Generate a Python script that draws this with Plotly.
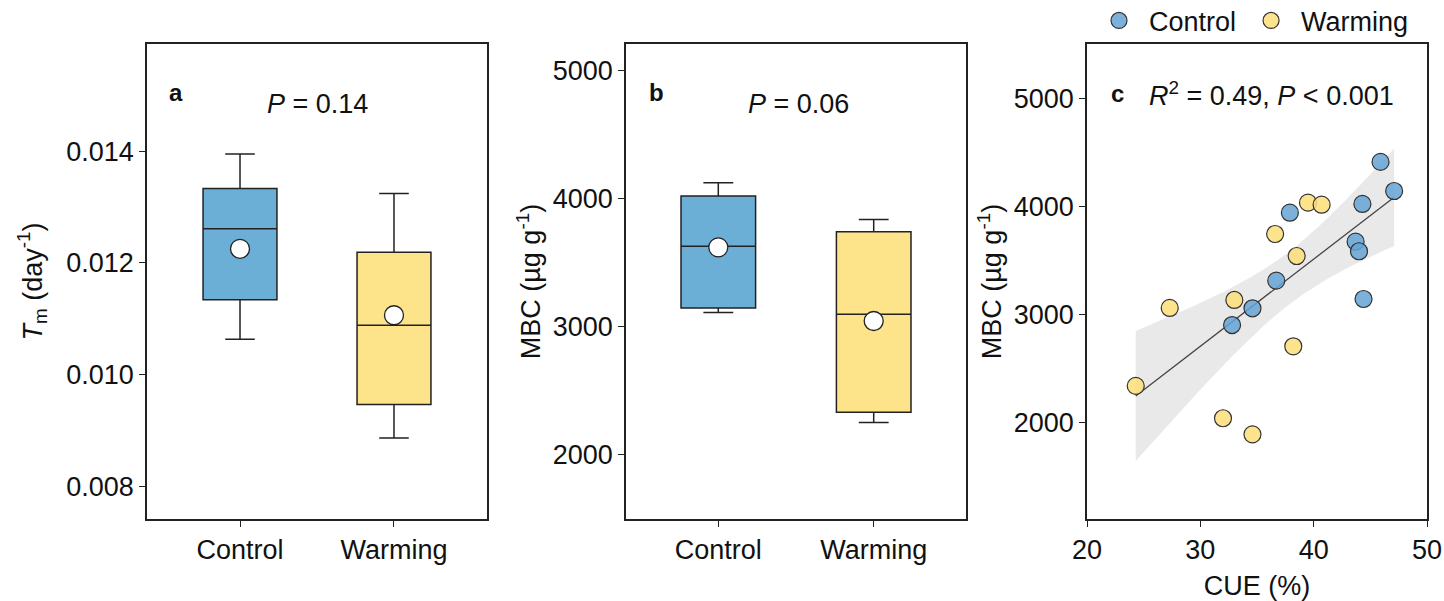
import numpy as np
import plotly.graph_objects as go

W, H = 1444, 601

# ---------------- data ----------------
groups = ["Control", "Warming"]

# panel a : Tm (day^-1) box statistics
tm_q1 = [0.01134, 0.00946]
tm_median = [0.01261, 0.01088]
tm_q3 = [0.01333, 0.01219]
tm_low = [0.01063, 0.00886]
tm_high = [0.01395, 0.01324]
tm_mean = [0.01225, 0.01106]

# panel b : MBC box statistics
mbc_q1 = [3146, 2333]
mbc_median = [3626, 3097]
mbc_q3 = [4018, 3740]
mbc_low = [3110, 2253]
mbc_high = [4122, 3836]
mbc_mean = [3618, 3044]

# panel c : CUE vs MBC
cue_control = [45.9, 47.1, 37.9, 44.3, 43.7, 44.0, 36.7, 44.4, 34.6, 32.8]
mbc_control = [4417, 4148, 3947, 4028, 3679, 3590, 3318, 3148, 3062, 2907]
cue_warming = [39.5, 40.7, 36.6, 38.5, 33.0, 27.3, 38.2, 24.3, 32.0, 34.6]
mbc_warming = [4040, 4021, 3750, 3546, 3139, 3065, 2710, 2343, 2044, 1895]

# ---------------- style ----------------
BLUE = "#6BAED6"
YELLOW = "#FDE38A"
BLUE_PT = "rgba(100,163,212,0.85)"
YELLOW_PT = "rgba(252,222,120,0.85)"
FONT = "Liberation Sans, Arial, sans-serif"
FS = 27
LINE = "#222222"


def px_x(x):
    return x / W


def px_y(y):
    return 1 - y / H


fig = go.Figure()

# ---------- panel a ----------
for i, g in enumerate(groups):
    fig.add_trace(go.Box(
        x=[g], q1=[tm_q1[i]], median=[tm_median[i]], q3=[tm_q3[i]],
        lowerfence=[tm_low[i]], upperfence=[tm_high[i]],
        fillcolor=[BLUE, YELLOW][i], line=dict(color=LINE, width=1.5),
        width=0.48, whiskerwidth=0.4, boxpoints=False, showlegend=False,
        xaxis="x", yaxis="y"))
fig.add_trace(go.Scatter(
    x=groups, y=tm_mean, mode="markers",
    marker=dict(size=19, color="white", line=dict(color=LINE, width=1.3)),
    showlegend=False, xaxis="x", yaxis="y"))

# ---------- panel b ----------
for i, g in enumerate(groups):
    fig.add_trace(go.Box(
        x=[g], q1=[mbc_q1[i]], median=[mbc_median[i]], q3=[mbc_q3[i]],
        lowerfence=[mbc_low[i]], upperfence=[mbc_high[i]],
        fillcolor=[BLUE, YELLOW][i], line=dict(color=LINE, width=1.5),
        width=0.48, whiskerwidth=0.4, boxpoints=False, showlegend=False,
        xaxis="x2", yaxis="y2"))
fig.add_trace(go.Scatter(
    x=groups, y=mbc_mean, mode="markers",
    marker=dict(size=19, color="white", line=dict(color=LINE, width=1.3)),
    showlegend=False, xaxis="x2", yaxis="y2"))

# ---------- panel c ----------
xs = np.array(cue_control + cue_warming, dtype=float)
ys = np.array(mbc_control + mbc_warming, dtype=float)
slope, intercept = np.polyfit(xs, ys, 1)
n = len(xs)
resid = ys - (slope * xs + intercept)
s = np.sqrt(np.sum(resid ** 2) / (n - 2))
sxx = np.sum((xs - xs.mean()) ** 2)
t_crit = 2.101  # t(0.975, df=18)
xf = np.linspace(xs.min(), xs.max(), 100)
yf = slope * xf + intercept
se = s * np.sqrt(1 / n + (xf - xs.mean()) ** 2 / sxx)
lo, hi = yf - t_crit * se, yf + t_crit * se

fig.add_trace(go.Scatter(x=xf, y=lo, mode="lines", line=dict(width=0),
                         showlegend=False, hoverinfo="skip", xaxis="x3", yaxis="y3"))
fig.add_trace(go.Scatter(x=xf, y=hi, mode="lines", line=dict(width=0),
                         fill="tonexty", fillcolor="rgba(215,215,215,0.55)",
                         showlegend=False, hoverinfo="skip", xaxis="x3", yaxis="y3"))
fig.add_trace(go.Scatter(x=xf, y=yf, mode="lines", line=dict(color="#444444", width=1.3),
                         showlegend=False, hoverinfo="skip", xaxis="x3", yaxis="y3"))
fig.add_trace(go.Scatter(x=cue_control, y=mbc_control, mode="markers", name="Control",
                         marker=dict(size=17, color=BLUE_PT, line=dict(color="#333333", width=1.2)),
                         xaxis="x3", yaxis="y3"))
fig.add_trace(go.Scatter(x=cue_warming, y=mbc_warming, mode="markers", name="Warming",
                         marker=dict(size=17, color=YELLOW_PT, line=dict(color="#333333", width=1.2)),
                         xaxis="x3", yaxis="y3"))

# ---------- axes ----------
ydom = [px_y(519), px_y(44)]
axis_common = dict(showline=True, mirror=True, linecolor=LINE, linewidth=1.5,
                   ticks="outside", ticklen=6, tickcolor=LINE, tickwidth=1.3,
                   showgrid=False, zeroline=False, automargin=False,
                   tickfont=dict(family=FONT, size=FS, color="#111"))

fig.update_layout(
    width=W, height=H,
    margin=dict(l=0, r=0, t=0, b=0, autoexpand=False),
    paper_bgcolor="white", plot_bgcolor="white",
    font=dict(family=FONT, size=FS, color="#111"),
    xaxis=dict(domain=[px_x(147), px_x(487)], range=[-0.604, 1.604], anchor="y",
               type="category", **axis_common),
    yaxis=dict(domain=ydom, range=[0.00741, 0.01592], anchor="x",
               tickvals=[0.008, 0.010, 0.012, 0.014], ticktext=["0.008", "0.010", "0.012", "0.014"],
               title=dict(text="<i>T</i><sub>m</sub> (day<sup>-1</sup>)",
                          font=dict(family=FONT, size=FS), standoff=16),
               **axis_common),
    xaxis2=dict(domain=[px_x(626), px_x(966)], range=[-0.594, 1.594], anchor="y2",
                type="category", **axis_common),
    yaxis2=dict(domain=ydom, range=[1501, 5203], anchor="x2",
                tickvals=[2000, 3000, 4000, 5000],
                title=dict(text="MBC (µg g<sup>-1</sup>)", font=dict(family=FONT, size=FS), standoff=4),
                **axis_common),
    xaxis3=dict(domain=[px_x(1087), px_x(1427)], range=[20, 50], anchor="y3",
                tickvals=[20, 30, 40, 50],
                title=dict(text="CUE (%)", font=dict(family=FONT, size=FS), standoff=14),
                **axis_common),
    yaxis3=dict(domain=ydom, range=[1111, 5509], anchor="x3",
                tickvals=[2000, 3000, 4000, 5000],
                title=dict(text="MBC (µg g<sup>-1</sup>)", font=dict(family=FONT, size=FS), standoff=4),
                **axis_common),
    legend=dict(orientation="h", x=px_x(1089), y=1.006, xanchor="left", yanchor="top",
                traceorder="normal",
                font=dict(family=FONT, size=FS, color="#111"), bgcolor="rgba(0,0,0,0)",
                itemwidth=50, tracegroupgap=0),
)

annots = [
    dict(text="<b>a</b>", x=px_x(176), y=px_y(93), size=24),
    dict(text="<i>P</i> = 0.14", x=px_x(317), y=px_y(104), size=FS),
    dict(text="<b>b</b>", x=px_x(656), y=px_y(93), size=24),
    dict(text="<i>P</i> = 0.06", x=px_x(798), y=px_y(104), size=FS),
    dict(text="<b>c</b>", x=px_x(1117), y=px_y(94), size=24),
    dict(text="<i>R</i><sup>2</sup> = 0.49, <i>P</i> < 0.001", x=px_x(1271), y=px_y(94), size=FS),
]
for a in annots:
    fig.add_annotation(text=a["text"], x=a["x"], y=a["y"], xref="paper", yref="paper",
                       xanchor="center", yanchor="middle", showarrow=False,
                       font=dict(family=FONT, size=a["size"], color="#111"))

fig.write_html("out.html")
